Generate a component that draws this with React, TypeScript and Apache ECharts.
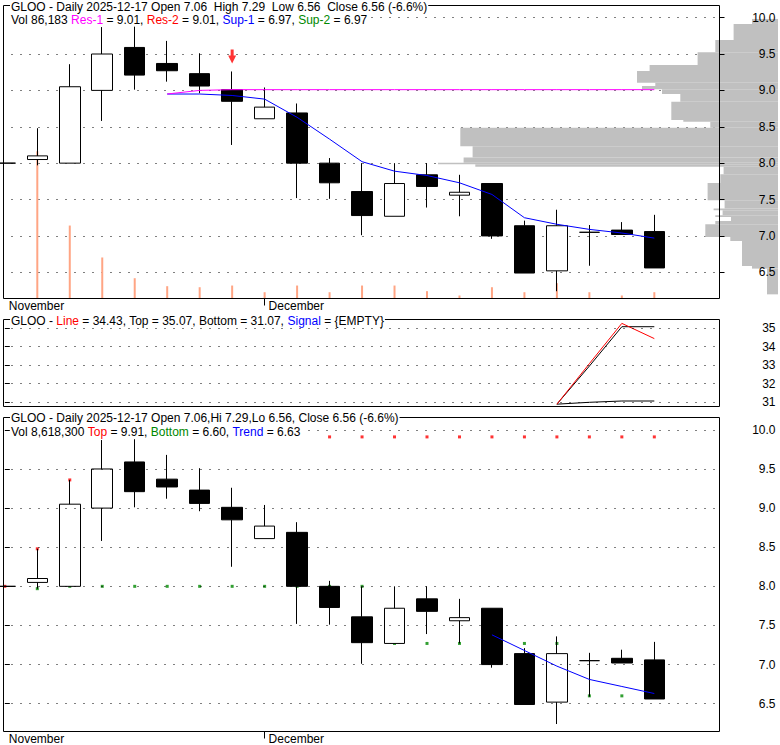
import React, { useEffect, useRef } from 'react';
import * as echarts from 'echarts';

const FONT = '"Liberation Sans", Arial, Helvetica, sans-serif';

const dates = ['2025-11-18', '2025-11-19', '2025-11-20', '2025-11-21', '2025-11-24', '2025-11-25', '2025-11-26', '2025-11-28', '2025-12-01', '2025-12-02', '2025-12-03', '2025-12-04', '2025-12-05', '2025-12-08', '2025-12-09', '2025-12-10', '2025-12-11', '2025-12-12', '2025-12-15', '2025-12-16', '2025-12-17'];
const opens = [8.0, 8.05, 8.0, 9.0, 9.59, 9.37, 9.23, 9.01, 8.61, 8.69, 8.0, 7.61, 7.27, 7.84, 7.56, 7.72, 7.14, 6.52, 7.05, 7.08, 7.06];
const closes = [8.0, 8.1, 9.05, 9.5, 9.21, 9.27, 9.06, 8.85, 8.77, 8.0, 7.73, 7.28, 7.72, 7.68, 7.6, 7.0, 6.49, 7.14, 7.05, 7.02, 6.56];
const lows = [8.0, 7.97, 8.0, 8.58, 9.01, 9.12, 8.96, 8.25, 8.61, 7.52, 7.51, 7.01, 7.27, 7.39, 7.27, 6.96, 6.49, 6.24, 6.59, 7.02, 6.56];
const highs = [8.0, 8.48, 9.36, 9.87, 9.88, 9.68, 9.51, 9.26, 9.04, 8.82, 8.07, 8.0, 8.0, 8.0, 7.84, 7.72, 7.21, 7.36, 7.15, 7.19, 7.29];
const volumes = [null, 2010000, 996000, 560000, 277000, 168000, 154000, 177000, 86000, 177000, 86000, 177000, 177000, 100000, 41000, 154000, 86000, 209000, 86000, 41000, 86183];

const res1 = [null, null, null, null, null, 8.95, 9.0, 9.01, 9.01, 9.01, 9.01, 9.01, 9.01, 9.01, 9.01, 9.01, 9.01, 9.01, 9.01, 9.01, 9.01];
const sup1 = [null, null, null, null, null, 8.95, 8.95, 8.93, 8.88, 8.63, 8.33, 8.02, 7.89, 7.83, 7.73, 7.57, 7.25, 7.16, 7.09, 7.04, 6.97];
const signalIdx = [7];

const oscLine = [null, null, null, null, null, null, null, null, null, null, null, null, null, null, null, null, null, 30.9, 33.08, 35.25, 34.43];
const oscTop = [null, null, null, null, null, null, null, null, null, null, null, null, null, null, null, null, null, 30.9, 32.95, 35.07, 35.07];
const oscBottom = [null, null, null, null, null, null, null, null, null, null, null, null, null, null, null, null, null, 30.9, 31.0, 31.07, 31.07];

const topDots = [8.0, 8.48, 9.36, null, null, null, null, null, null, null, 9.91, 9.91, 9.91, 9.91, 9.91, 9.91, 9.91, 9.91, 9.91, 9.91, 9.91];
const bottomDots = [null, 7.97, 8.0, 8.0, 8.0, 8.0, 8.0, 8.0, 8.0, 8.0, 8.0, 8.0, 7.27, 7.27, 7.27, 7.27, 7.27, 7.27, 6.6, 6.6, 6.6];
const trend = [null, null, null, null, null, null, null, null, null, null, null, null, null, null, null, 7.38, 7.18, 6.98, 6.81, 6.72, 6.63];

const monthIdx = [0, 8];
const monthLabels = ['November', 'December'];
const priceTicks = [6.5, 7.0, 7.5, 8.0, 8.5, 9.0, 9.5, 10.0];
const oscTicks = [31, 32, 33, 34, 35];

const profLow = [9.913, 9.693, 9.523, 9.349, 9.266, 9.105, 9.06, 9.014, 8.95, 8.844, 8.592, 8.568, 8.486, 8.234, 8.079, 8.004, 7.986, 7.949, 7.849, 7.729, 7.491, 7.377, 7.353, 7.285, 7.261, 7.206, 7.161, 6.986, 6.931, 6.587, 6.551, 6.197];
const profHigh = [9.982, 9.913, 9.693, 9.523, 9.349, 9.266, 9.105, 9.06, 9.014, 8.95, 8.844, 8.592, 8.568, 8.486, 8.234, 8.079, 8.004, 7.986, 7.949, 7.849, 7.729, 7.491, 7.377, 7.353, 7.285, 7.261, 7.206, 7.161, 6.986, 6.931, 6.587, 6.551];
const profVol = [260000, 444000, 627000, 804000, 1284000, 1410000, 1227000, 1360000, 1160000, 977000, 1067000, 947000, 677000, 3177000, 3054000, 3144000, 3400000, 3027000, 544000, 577000, 704000, 534000, 644000, 554000, 627000, 470000, 627000, 727000, 477000, 360000, 260000, 110000];

const X_MIN = -0.0408;
const X_MAX = 22.007;
const TOP_MIN = 6.1401;
const TOP_MAX = 10.1665;
const BOT_MIN = 6.1445;
const BOT_MAX = 10.158;
const OSC_MIN = 30.774;
const OSC_MAX = 35.458;

const rs = (color: string) => ({ color, fontSize: 12, fontFamily: FONT, lineHeight: 13 });
const RICH = { k: rs('#000'), m: rs('#ff00ff'), r: rs('#ff0000'), b: rs('#0000ff'), g: rs('#008800') };

function header(text: string, top: number) {
  return {
    text,
    left: 10,
    top,
    padding: [0, 1, 0, 1],
    backgroundColor: '#fff',
    itemGap: 0,
    textStyle: { fontSize: 12, fontFamily: FONT, fontWeight: 'normal', color: '#000', lineHeight: 13, rich: RICH },
  };
}

const dotted = { show: true, lineStyle: { color: '#000', width: 1, type: [1, 8] as any, dashOffset: 0.5 } };

export default function App() {
  const ref = useRef<HTMLDivElement>(null);
  useEffect(() => {
    if (!ref.current) return;
    const chart = echarts.init(ref.current, undefined, { renderer: 'svg' });
    const ohlc = dates.map((_, i) => [i, opens[i], closes[i], lows[i], highs[i]]);
    const pair = (arr: (number | null)[]) => dates.map((_, i) => [i, arr[i]]);
    const xBase = (gridIndex: number, labels: boolean) => ({
      type: 'value', gridIndex, min: X_MIN, max: X_MAX,
      axisLine: { show: false }, splitLine: { show: false },
      axisTick: labels ? { show: true, customValues: [monthIdx[1]], length: 7, lineStyle: { color: '#000' } } : { show: false },
      axisLabel: labels ? {
        show: true, customValues: monthIdx, align: 'left', padding: [0, 0, 0, 4], margin: 1,
        fontSize: 12, fontFamily: FONT, color: '#000',
        formatter: (v: number) => monthLabels[monthIdx.indexOf(Math.round(v))] || '',
      } : { show: false },
    });
    const candleStyle = { color: '#fff', color0: '#000', borderColor: '#000', borderColor0: '#000', borderColorDoji: '#000', borderWidth: 1 };
    const option: any = {
      animation: false,
      backgroundColor: '#fff',
      title: [
        header('GLOO - Daily 2025-12-17 Open 7.06  High 7.29  Low 6.56  Close 6.56 (-6.6%)', 0),
        header('{k|Vol 86,183 }{m|Res-1}{k| = 9.01, }{r|Res-2}{k| = 9.01, }{b|Sup-1}{k| = 6.97, }{g|Sup-2}{k| = 6.97}', 13.5),
        header('{k|GLOO - }{r|Line}{k| = 34.43, Top = 35.07, Bottom = 31.07, }{b|Signal} = {EMPTY}', 314),
        header('GLOO - Daily 2025-12-17 Open 7.06,Hi 7.29,Lo 6.56, Close 6.56 (-6.6%)', 411.5),
        header('{k|Vol 8,618,300 }{r|Top}{k| = 9.91, }{g|Bottom}{k| = 6.60, }{b|Trend}{k| = 6.63}', 425.5),
      ],
      grid: [
        { left: 3.5, right: 60.5, top: 5.5, height: 293, show: true, borderColor: '#000', borderWidth: 1, z: 3 },
        { left: 3.5, right: 60.5, top: 319.5, height: 87, show: true, borderColor: '#000', borderWidth: 1, z: 3 },
        { left: 3.5, right: 60.5, top: 417.5, height: 314, show: true, borderColor: '#000', borderWidth: 1, z: 3 },
        { left: 0, right: 2, top: 5.5, height: 293, show: false },
      ],
      xAxis: [
        xBase(0, true),
        xBase(1, false),
        xBase(2, true),
        { type: 'value', gridIndex: 3, min: 0, max: 7780000, inverse: true, show: false },
      ],
      yAxis: [
        { type: 'value', gridIndex: 0, position: 'right', min: TOP_MIN, max: TOP_MAX, z: 0,
          axisLine: { show: false }, axisTick: { show: false, customValues: priceTicks }, axisLabel: { show: false, customValues: priceTicks }, splitLine: dotted },
        { type: 'value', gridIndex: 0, position: 'right', min: TOP_MIN, max: TOP_MAX, z: 5,
          axisLine: { show: false }, splitLine: { show: false },
          axisTick: { show: true, customValues: priceTicks, length: 5, lineStyle: { color: '#000' } },
          axisLabel: { show: true, customValues: priceTicks, align: 'right', margin: 56, fontSize: 12, fontFamily: FONT, color: '#000', formatter: (v: number) => v.toFixed(1) } },
        { type: 'value', gridIndex: 0, min: 0, max: 4000000, show: false },
        { type: 'value', gridIndex: 1, position: 'right', min: OSC_MIN, max: OSC_MAX, z: 5,
          axisLine: { show: false }, splitLine: dotted,
          axisTick: { show: true, customValues: oscTicks, length: 5, lineStyle: { color: '#000' } },
          axisLabel: { show: true, customValues: oscTicks, align: 'right', margin: 56, fontSize: 12, fontFamily: FONT, color: '#000', formatter: (v: number) => String(Math.round(v)) } },
        { type: 'value', gridIndex: 2, position: 'right', min: BOT_MIN, max: BOT_MAX, z: 5,
          axisLine: { show: false }, splitLine: dotted,
          axisTick: { show: true, customValues: priceTicks, length: 5, lineStyle: { color: '#000' } },
          axisLabel: { show: true, customValues: priceTicks, align: 'right', margin: 56, fontSize: 12, fontFamily: FONT, color: '#000', formatter: (v: number) => v.toFixed(1) } },
        { type: 'value', gridIndex: 3, min: TOP_MIN, max: TOP_MAX, show: false },
      ],
      series: [
        {
          type: 'custom', name: 'Volume by price', xAxisIndex: 3, yAxisIndex: 5, z: 1, clip: false, silent: true,
          dimensions: ['low', 'high', 'vol'],
          encode: { x: 2, y: [0, 1] },
          data: profLow.map((lo, i) => [lo, profHigh[i], profVol[i]]),
          renderItem: (_p: any, api: any) => {
            const a = api.coord([0, api.value(1)]);
            const b = api.coord([api.value(2), api.value(0)]);
            return {
              type: 'rect',
              shape: { x: Math.min(a[0], b[0]), y: Math.min(a[1], b[1]), width: Math.abs(a[0] - b[0]), height: Math.abs(b[1] - a[1]) },
              style: { fill: '#c0c0c0' },
            };
          },
        },
        { type: 'bar', name: 'Vol', xAxisIndex: 0, yAxisIndex: 2, barWidth: 2, data: pair(volumes), itemStyle: { color: '#ffa584' }, silent: true },
        { type: 'line', name: 'Sup-1', xAxisIndex: 0, yAxisIndex: 0, data: pair(sup1), symbol: 'none', lineStyle: { color: '#0000ff', width: 1 }, silent: true },
        { type: 'line', name: 'Res-1', xAxisIndex: 0, yAxisIndex: 0, data: pair(res1), symbol: 'none', lineStyle: { color: '#ff00ff', width: 1 }, silent: true },
        { type: 'candlestick', name: 'GLOO', xAxisIndex: 0, yAxisIndex: 0, data: ohlc, barWidth: 21, clip: false, itemStyle: candleStyle, silent: true },
        {
          type: 'scatter', name: 'Signal', xAxisIndex: 0, yAxisIndex: 0,
          data: signalIdx.map((i) => [i, highs[i]]),
          symbol: 'path://M2.5,0 L5.5,0 L5.5,6 L8,6 L4,14 L0,6 L2.5,6 Z',
          symbolSize: [8, 14], symbolOffset: [0, -15], itemStyle: { color: '#ff0000' }, silent: true,
        },
        { type: 'line', name: 'Top', xAxisIndex: 1, yAxisIndex: 3, data: pair(oscTop), symbol: 'none', lineStyle: { color: '#000', width: 1 }, silent: true },
        { type: 'line', name: 'Bottom', xAxisIndex: 1, yAxisIndex: 3, data: pair(oscBottom), symbol: 'none', lineStyle: { color: '#000', width: 1 }, silent: true },
        { type: 'line', name: 'Line', xAxisIndex: 1, yAxisIndex: 3, data: pair(oscLine), symbol: 'none', lineStyle: { color: '#ff0000', width: 1 }, silent: true },
        { type: 'scatter', name: 'TopDots', xAxisIndex: 2, yAxisIndex: 4, data: pair(topDots), symbol: 'rect', symbolSize: 3, itemStyle: { color: '#ff0000' }, silent: true },
        { type: 'scatter', name: 'BottomDots', xAxisIndex: 2, yAxisIndex: 4, data: pair(bottomDots), symbol: 'rect', symbolSize: 3, itemStyle: { color: '#008800' }, silent: true },
        { type: 'line', name: 'Trend', xAxisIndex: 2, yAxisIndex: 4, data: pair(trend), symbol: 'none', lineStyle: { color: '#0000ff', width: 1 }, silent: true },
        { type: 'candlestick', name: 'GLOO2', xAxisIndex: 2, yAxisIndex: 4, data: ohlc, barWidth: 21, clip: false, itemStyle: candleStyle, silent: true },
      ],
    };
    chart.setOption(option);
    return () => chart.dispose();
  }, []);
  return <div ref={ref} style={{ position: 'fixed', left: 0, top: 0, width: 780, height: 745, background: '#fff' }} />;
}
